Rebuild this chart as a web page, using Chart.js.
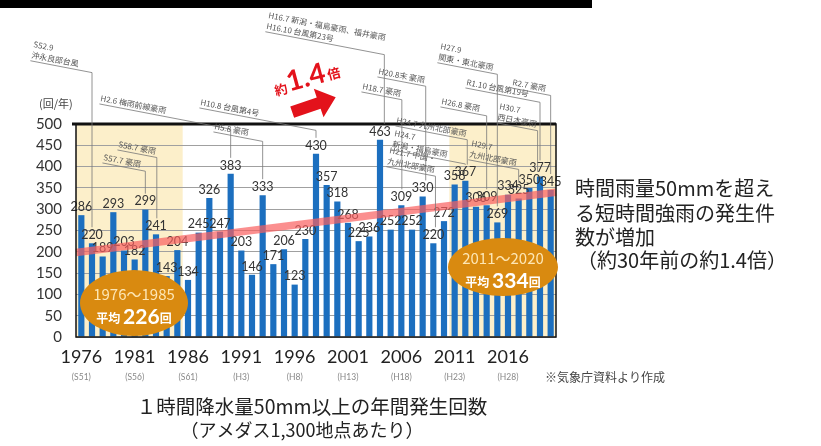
<!DOCTYPE html>
<html>
<head>
<meta charset="utf-8">
<script src="https://cdn.jsdelivr.net/npm/chart.js@4.4.0/dist/chart.umd.min.js"></script>
<style>
  html, body { margin: 0; padding: 0; background: #fff; }
  #wrap { width: 821px; height: 446px; }
</style>
</head>
<body>
<div id="wrap"><canvas id="grafico" width="821" height="446"></canvas></div>
<script>
// dados
var anos = ["1976","1977","1978","1979","1980","1981","1982","1983","1984","1985",
            "1986","1987","1988","1989","1990","1991","1992","1993","1994","1995",
            "1996","1997","1998","1999","2000","2001","2002","2003","2004","2005",
            "2006","2007","2008","2009","2010","2011","2012","2013","2014","2015",
            "2016","2017","2018","2019","2020"];
var ocorrencias = [286,220,189,293,203,182,299,241,143,204,
                   134,245,326,247,383,203,146,333,171,206,
                   123,230,430,357,318,268,225,236,463,252,
                   309,252,330,220,272,358,367,306,309,269,
                   334,325,350,377,345];
var anosTick = ["1976","1981","1986","1991","1996","2001","2006","2011","2016"];
var eras = ["(S51)","(S56)","(S61)","(H3)","(H8)","(H13)","(H18)","(H23)","(H28)"];
var periodo1 = ["1976","1985"];
var periodo2 = ["2011","2020"];
var media1 = 226;
var media2 = 334;
var tendencia = [200, 338];   // trend line value at 1976 and 2020

var eventos = [
  { txt: ["S52.9", "沖永良部台風"], ano: "1977" },
  { txt: ["S57.7 豪雨"], ano: "1982" },
  { txt: ["S58.7 豪雨"], ano: "1983" },
  { txt: ["H2.6 梅雨前線豪雨"], ano: "1990" },
  { txt: ["H5.8 豪雨"], ano: "1993" },
  { txt: ["H10.8 台風第4号"], ano: "1998" },
  { txt: ["H16.7 新潟・福島豪雨、福井豪雨", "H16.10 台風第23号"], ano: "2004" },
  { txt: ["H18.7 豪雨"], ano: "2006" },
  { txt: ["H20.8末 豪雨"], ano: "2008" },
  { txt: ["H21.7 中国・", "九州北部豪雨"], ano: "2009" },
  { txt: ["H24.7 九州北部豪雨"], ano: "2012" },
  { txt: ["H24.7", "新潟・福島豪雨"], ano: "2012" },
  { txt: ["H26.8 豪雨"], ano: "2014" },
  { txt: ["H27.9", "関東・東北豪雨"], ano: "2015" },
  { txt: ["H29.7", "九州北部豪雨"], ano: "2017" },
  { txt: ["H30.7", "西日本豪雨"], ano: "2018" },
  { txt: ["R1.10 台風第19号"], ano: "2019" },
  { txt: ["R2.7 豪雨"], ano: "2020" }
];
// where each note's text starts (same order as eventos)
var posEventos = [
  [33, 47], [103, 160], [118, 147], [100, 101], [214, 129], [200, 105],
  [268, 18], [362, 89], [378, 74], [389, 153], [396, 123], [394, 136],
  [441, 104], [440, 49], [471, 146], [499, 109], [466, 85], [512, 85]
];

var JP = '"Noto Sans CJK JP", "Noto Sans", sans-serif';
var NUM = 'Lato, "Noto Sans", sans-serif';

var overlay = {
  id: 'overlay',
  beforeDraw: function (chart) {
    var c = chart.ctx, a = chart.chartArea, x = chart.scales.x;
    var meio = (x.getPixelForValue(1) - x.getPixelForValue(0)) / 2;
    c.save();
    c.fillStyle = '#fcefca';
    [periodo1, periodo2].forEach(function (p) {
      var x1 = x.getPixelForValue(anos.indexOf(p[0])) - meio;
      var x2 = x.getPixelForValue(anos.indexOf(p[1])) + meio;
      c.fillRect(x1, a.top, x2 - x1, a.bottom - a.top);
    });
    c.restore();
  },
  afterDatasetsDraw: function (chart) {
    var c = chart.ctx, a = chart.chartArea, x = chart.scales.x, y = chart.scales.y;
    var meta = chart.getDatasetMeta(0);
    c.save();
    // valores
    c.font = '12.5px ' + NUM;
    c.fillStyle = '#333';
    c.textAlign = 'center';
    c.textBaseline = 'bottom';
    meta.data.forEach(function (bar, i) {
      c.fillText(ocorrencias[i], bar.x, bar.y - 2);
    });
    // tendencia
    var xa = x.getPixelForValue(0), xb = x.getPixelForValue(anos.length - 1);
    var ya = y.getPixelForValue(tendencia[0]), yb = y.getPixelForValue(tendencia[1]);
    var k = (yb - ya) / (xb - xa);
    c.strokeStyle = 'rgba(250,95,95,0.7)';
    c.lineWidth = 7.5;
    c.beginPath();
    c.moveTo(a.left, ya + (a.left - xa) * k);
    c.lineTo(a.right, ya + (a.right - xa) * k);
    c.stroke();
    // moldura
    c.strokeStyle = '#111';
    c.lineWidth = 1.5;
    c.strokeRect(a.left, a.top, a.right - a.left, a.bottom - a.top);
    c.lineWidth = 3;
    c.beginPath();
    c.moveTo(a.left - 4, a.top);
    c.lineTo(a.right, a.top);
    c.stroke();
    // elipses das medias
    function elipse(cx, cy, rx, ry, periodo, media) {
      c.fillStyle = '#d98a10';
      c.beginPath();
      c.ellipse(cx, cy, rx, ry, 0, 0, Math.PI * 2);
      c.fill();
      c.textAlign = 'center';
      c.textBaseline = 'alphabetic';
      c.fillStyle = '#fde6b4';
      c.font = '15px ' + JP;
      c.fillText(periodo[0] + '～' + periodo[1], cx, cy - 3);
      c.fillStyle = '#fff';
      var t1 = '平均 ', t2 = String(media), t3 = '回';
      c.font = 'bold 12px ' + JP; var w1 = c.measureText(t1).width;
      c.font = 'bold 21px ' + NUM; var w2 = c.measureText(t2).width;
      c.font = 'bold 12px ' + JP; var w3 = c.measureText(t3).width;
      var sx = cx - (w1 + w2 + w3) / 2;
      c.textAlign = 'left';
      c.font = 'bold 12px ' + JP; c.fillText(t1, sx, cy + 20);
      c.font = 'bold 21px ' + NUM; c.fillText(t2, sx + w1, cy + 21);
      c.font = 'bold 12px ' + JP; c.fillText(t3, sx + w1 + w2, cy + 20);
    }
    elipse(134, 303, 54, 33, periodo1, media1);
    elipse(503, 267, 55, 29, periodo2, media2);
    c.restore();
  },
  afterDraw: function (chart) {
    var c = chart.ctx, x = chart.scales.x, y = chart.scales.y;
    c.save();
    // faixa preta no topo
    c.fillStyle = '#000';
    c.fillRect(0, 0, 592, 8);

    // notas de eventos
    var ang = 0.19;
    c.font = '8px ' + JP;
    eventos.forEach(function (ev, i) {
      var p = posEventos[i];
      c.save();
      c.translate(p[0], p[1]);
      c.rotate(ang);
      c.fillStyle = '#555';
      c.textAlign = 'left';
      c.textBaseline = 'alphabetic';
      var w = 0;
      ev.txt.forEach(function (t, j) {
        c.fillText(t, 0, j * 11);
        w = Math.max(w, c.measureText(t).width);
      });
      c.restore();
      // sublinhado + linha guia
      var j = anos.indexOf(ev.ano);
      var bx = x.getPixelForValue(j);
      var by = y.getPixelForValue(ocorrencias[j]) - 16;
      var off = (ev.txt.length - 1) * 11 + 3;
      var ux = p[0] - Math.sin(ang) * off, uy = p[1] + Math.cos(ang) * off;
      var len = Math.max(w + 2, (bx - ux) / Math.cos(ang));
      var ex = ux + Math.cos(ang) * len, ey = uy + Math.sin(ang) * len;
      c.strokeStyle = '#777';
      c.lineWidth = 0.8;
      c.beginPath();
      c.moveTo(ux, uy);
      c.lineTo(ex, ey);
      if (by > ey) c.lineTo(ex, by);
      c.stroke();
    });

    // seta vermelha "約1.4倍"
    c.save();
    c.translate(313, 105);
    c.rotate(-0.33);
    c.fillStyle = '#e3121b';
    c.beginPath();
    c.moveTo(-22, -6);
    c.lineTo(6, -6);
    c.lineTo(6, -15);
    c.lineTo(24, 0);
    c.lineTo(6, 15);
    c.lineTo(6, 6);
    c.lineTo(-22, 6);
    c.closePath();
    c.fill();
    c.restore();
    c.save();
    c.translate(276, 96);
    c.rotate(-0.26);
    c.fillStyle = '#e3121b';
    c.textAlign = 'left';
    c.font = 'bold 13px ' + JP;
    c.fillText('約', 0, 0);
    c.font = 'bold 28px ' + NUM;
    c.fillText('1.4', 14, -1);
    var w14 = c.measureText('1.4').width;
    c.font = 'bold 13px ' + JP;
    c.fillText('倍', 16 + w14, -2);
    c.restore();

    // rótulo do eixo y
    c.fillStyle = '#444';
    c.font = '11px ' + JP;
    c.textAlign = 'left';
    c.fillText('(回/年)', 39, 108);

    // eras abaixo dos anos
    c.fillStyle = '#888';
    c.font = '8.5px ' + NUM;
    c.textAlign = 'center';
    anosTick.forEach(function (a, i) {
      c.fillText(eras[i], x.getPixelForValue(anos.indexOf(a)), 380);
    });

    // texto da direita
    c.fillStyle = '#222';
    c.font = '20px ' + JP;
    c.textAlign = 'left';
    c.fillText('時間雨量50mmを超え', 575, 196);
    c.fillText('る短時間強雨の発生件', 575, 221);
    c.fillText('数が増加', 575, 245);
    c.fillText('（約30年前の約1.4倍）', 577, 268);

    // fonte
    c.fillStyle = '#444';
    c.font = '12px ' + JP;
    c.fillText('※気象庁資料より作成', 545, 382);

    // titulo inferior
    c.fillStyle = '#222';
    c.textAlign = 'center';
    c.font = '19.5px ' + JP;
    c.fillText('１時間降水量50mm以上の年間発生回数', 312, 414);
    c.font = '18px ' + JP;
    c.fillText('（アメダス1,300地点あたり）', 302, 437);
    c.restore();
  }
};

var ctx = document.getElementById('grafico').getContext('2d');
var chart = new Chart(ctx, {
    type: 'bar',
    data: {
        labels: anos,
        datasets: [{
            label: "1時間降水量50mm以上の年間発生回数",
            backgroundColor: '#1c6fbf',
            data: ocorrencias,
            barPercentage: 0.58,
            categoryPercentage: 1.0
        }]
    },
    options: {
        responsive: false,
        animation: false,
        devicePixelRatio: 1,
        layout: { padding: { left: 0, right: 265, top: 124, bottom: 0 } },
        plugins: {
            legend: { display: false },
            tooltip: { enabled: false }
        },
        scales: {
            x: {
                grid: { display: false, drawTicks: false },
                border: { display: false },
                afterFit: function (s) { s.height = 109; },
                ticks: {
                    autoSkip: false,
                    maxRotation: 0,
                    padding: 9,
                    color: '#222',
                    font: { family: 'Lato', size: 18 },
                    callback: function (v) {
                        var a = anos[v];
                        return anosTick.indexOf(a) >= 0 ? a : '';
                    }
                }
            },
            y: {
                min: 0,
                max: 500,
                afterFit: function (s) { s.width = 76; },
                border: { display: false },
                grid: {
                    color: '#a0a0a0',
                    lineWidth: 1,
                    drawTicks: false
                },
                ticks: {
                    stepSize: 50,
                    padding: 14,
                    color: '#333',
                    font: { family: 'Lato', size: 15 }
                }
            }
        }
    },
    plugins: [overlay]
});
</script>
</body>
</html>
